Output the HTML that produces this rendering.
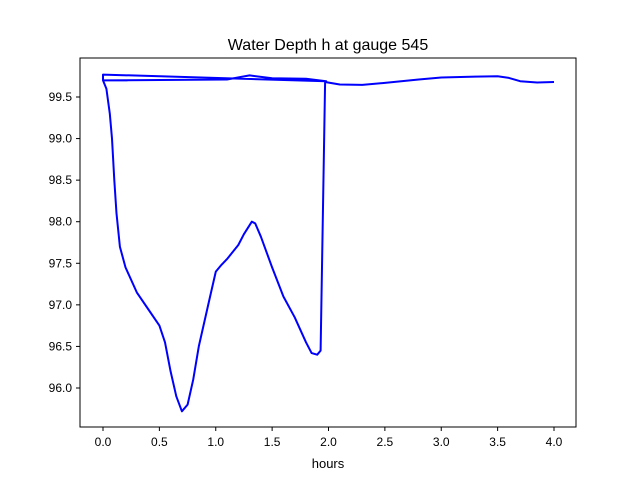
<!DOCTYPE html>
<html><head><meta charset="utf-8"><style>body{margin:0;background:#fff}svg text{font-family:"Liberation Sans","DejaVu Sans",sans-serif;fill:#000}</style></head>
<body>
<svg width="640" height="480" id="c">
<rect x="0" y="0" width="640" height="480" fill="#fff"/>
<text x="328" y="50" font-size="16" text-anchor="middle">Water Depth h at gauge 545</text>
<text x="328" y="468" font-size="13" text-anchor="middle">hours</text>
<g id="ticks"></g>
<path id="line" fill="none" stroke="#0000ff" stroke-width="2" stroke-linejoin="round"/>
<rect x="80" y="58" width="496" height="369" fill="none" stroke="#000" stroke-width="1"/>
</svg>
<script>
const xTicks=[0,0.5,1,1.5,2,2.5,3,3.5,4];
const yTicks=[96,96.5,97,97.5,98,98.5,99,99.5];
const times=[0,1.1,1.3,1.5,1.8,1.98,0,0,0.03,0.06,0.08,0.1,0.12,0.15,0.2,0.3,0.4,0.5,0.55,0.6,0.65,0.7,0.75,0.8,0.85,0.95,1.0,1.05,1.1,1.2,1.25,1.32,1.35,1.4,1.5,1.6,1.7,1.8,1.85,1.9,1.93,1.97,2.1,2.3,2.5,2.8,3.0,3.3,3.5,3.6,3.7,3.85,4.0];
const depths=[99.70,99.71,99.76,99.725,99.72,99.69,99.77,99.70,99.6,99.3,99.0,98.5,98.1,97.7,97.45,97.15,96.95,96.75,96.55,96.2,95.9,95.72,95.8,96.1,96.5,97.1,97.4,97.48,97.55,97.72,97.85,98.0,97.98,97.82,97.45,97.1,96.85,96.55,96.42,96.4,96.45,99.68,99.65,99.645,99.67,99.71,99.735,99.745,99.75,99.73,99.69,99.675,99.68];
const X=t=>103+t*112.75, Y=v=>97+(99.5-v)*83.14;
const ns="http://www.w3.org/2000/svg", g=document.getElementById('ticks');
function el(n,a){const e=document.createElementNS(ns,n);for(const k in a)e.setAttribute(k,a[k]);g.appendChild(e);return e;}
xTicks.forEach(t=>{
 const l=el('line',{x1:X(t),x2:X(t),y1:427,y2:431,stroke:'#000'});
 
 
 const tx=el('text',{x:X(t),y:446,'font-size':12,'text-anchor':'middle'});tx.textContent=t.toFixed(1);
 
 
});
yTicks.forEach(v=>{
 const l=el('line',{x1:76,x2:80,y1:Y(v),y2:Y(v),stroke:'#000'});
 
 
 const tx=el('text',{x:72,y:Y(v)+4,'font-size':12,'text-anchor':'end'});tx.textContent=v.toFixed(1);
 
 
});
document.getElementById('line').setAttribute('d',times.map((t,i)=>(i?'L':'M')+X(t).toFixed(1)+','+Y(depths[i]).toFixed(1)).join(''));
</script>
</body></html>
